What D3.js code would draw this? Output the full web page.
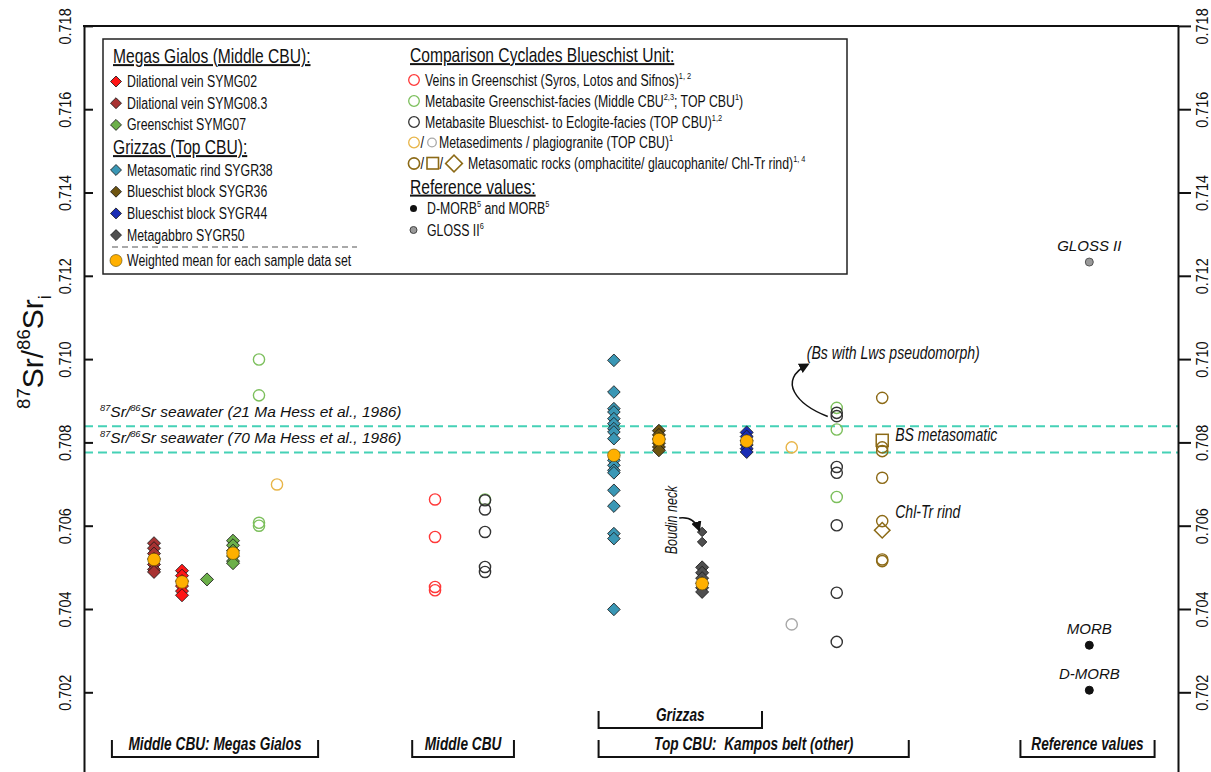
<!DOCTYPE html>
<html>
<head>
<meta charset="utf-8">
<script src="https://cdnjs.cloudflare.com/ajax/libs/d3/7.8.5/d3.min.js"></script>
<style>
  body { margin: 0; background: #fff; }
  svg text { font-family: "Liberation Sans", Arial, sans-serif; fill: #111; white-space: pre; }
</style>
</head>
<body>
<div id="chart"></div>
<script>
(function() {

  var width = 1211, height = 772;

  // y axis ticks (87Sr/86Sr initial)
  var yTicks = [0.702, 0.704, 0.706, 0.708, 0.710, 0.712, 0.714, 0.716, 0.718];

  // seawater reference lines, Hess et al. 1986
  var seawaterValues = [0.70839, 0.70776];
  var seawaterAges = ["21 Ma", "70 Ma"];

  // this study: one array per sample (x slot, values)
  var symg083Slot = 1.555, symg083 = [0.70558, 0.70546, 0.70533, 0.70520, 0.70507, 0.70495, 0.70489];
  var symg02Slot = 2.177, symg02 = [0.70492, 0.70480, 0.70467, 0.70455, 0.70443, 0.70433];
  var symg07aSlot = 2.732, symg07a = [0.70471];
  var symg07bSlot = 3.31, symg07b = [0.70564, 0.70553, 0.70540, 0.70527, 0.70515, 0.70510];
  var sygr38Slot = 11.77, sygr38 = [0.70997, 0.70921, 0.70881, 0.70873, 0.70857, 0.70845, 0.70833, 0.70825,
                                    0.70809, 0.70757, 0.70745, 0.70733, 0.70727, 0.70685, 0.70647, 0.70581,
                                    0.70569, 0.70399];
  var sygr36Slot = 12.77, sygr36 = [0.70828, 0.70818, 0.70808, 0.70798, 0.70789, 0.70781];
  var sygr50Slot = 13.73, sygr50 = [0.70500, 0.70487, 0.70474, 0.70462, 0.70451, 0.70441];
  var sygr50Neck = [0.70585, 0.70561];
  var sygr44Slot = 14.72, sygr44 = [0.70824, 0.70814, 0.70804, 0.70794, 0.70785, 0.70777];

  // weighted means of each sample data set
  var meanSlots = [1.555, 2.177, 3.31, 11.77, 12.77, 13.73, 14.72];
  var meanValues = [0.70519, 0.70465, 0.70534, 0.70769, 0.70807, 0.70461, 0.70803];

  // comparison CBU data: [slot, value]
  var veinsGreenschist = [[7.797, 0.70663], [7.797, 0.70573], [7.797, 0.70453], [7.797, 0.70445]];
  var metabasiteGreenschist = [[3.887, 0.70999], [3.887, 0.70913], [3.887, 0.70607], [3.887, 0.70600],
                               [8.907, 0.70663], [16.72, 0.70883], [16.72, 0.70831], [16.72, 0.70669]];
  var metabasiteBlueschist = [[8.907, 0.70661], [8.907, 0.70639], [8.907, 0.70585], [8.907, 0.70501],
                              [8.907, 0.70489], [16.72, 0.70871], [16.72, 0.70863], [16.72, 0.70741],
                              [16.72, 0.70727], [16.72, 0.70601], [16.72, 0.70439], [16.72, 0.70321]];
  var metasediments = [[4.287, 0.70699], [15.72, 0.70788]];
  var plagiogranite = [[15.72, 0.70363]];
  var omphacitite = [[17.73, 0.70907], [17.73, 0.70788], [17.73, 0.70779], [17.73, 0.70715],
                     [17.73, 0.70611], [17.73, 0.70519], [17.73, 0.70515]];
  var glaucophanite = [[17.73, 0.70805]];
  var chlTrRind = [[17.73, 0.70589]];

  // reference values
  var refNames = ["GLOSS II", "MORB", "D-MORB"];
  var refValues = [0.71233, 0.70313, 0.70205];
  var refSlot = 22.33;

  // bottom group brackets
  var groupLabels = ["Middle CBU: Megas Gialos", "Middle CBU", "Grizzas", "Top CBU:  Kampos belt (other)", "Reference values"];
  var groupStart = [0.62, 7.29, 11.43, 11.43, 20.8];
  var groupEnd = [5.2, 9.55, 15.06, 18.32, 23.78];
  var groupRow = [1, 1, 0, 1, 1];

  var col = {
    red: "#ff1616", darkred: "#a83232", green: "#6cb04a", teal: "#3a97b5",
    brown: "#6e5410", blue: "#1a2db5", grey: "#4f4f4f", mean: "#ffb000",
    oRed: "#ff3838", oGreen: "#7cbf5c", oBlack: "#333", oYellow: "#e8b548",
    oGrey: "#a8a8a8", oBrown: "#8c6a16", sea: "#45d1b6"
  };

  var x = d3.scaleLinear().domain([0, 24.3]).range([84, 1178]);
  var y = d3.scaleLinear().domain([0.700, 0.718]).range([775.6, 25.9]);

  var svg = d3.select("#chart").append("svg")
    .attr("width", width)
    .attr("height", height);

  // rich text with sup / sub parts
  function rich(t, parts, size, k) {
    var cur = 0;
    parts.forEach(function(p) {
      var ts = t.append("tspan").text(p[0]);
      var target = p[1] === "sup" ? -size * 0.42 : p[1] === "sub" ? size * 0.28 : 0;
      if (target - cur !== 0) ts.attr("dy", target - cur);
      cur = target;
      if (p[1] !== "n") ts.style("font-size", (size * (k || 0.6)) + "px");
    });
    return t;
  }

  // text squeezed like a condensed face (no narrow font installed)
  function ctext(parent, tx, ty, k, rot) {
    return parent.append("text")
      .attr("transform", "translate(" + tx + "," + ty + ")" + (rot ? " rotate(" + rot + ")" : "") + " scale(" + k + ",1)");
  }

  function diamond(s) {
    return d3.symbol().type(d3.symbolSquare).size(s)();
  }

  //seawater lines
  svg.selectAll("line.sea")
    .data(seawaterValues)
    .enter().append("line")
    .attr("class", "sea")
    .attr("x1", x(0)).attr("x2", x(24.3))
    .attr("y1", function(d) { return y(d); })
    .attr("y2", function(d) { return y(d); })
    .attr("stroke", col.sea)
    .attr("stroke-width", 2)
    .attr("stroke-dasharray", "9,5");

  seawaterValues.forEach(function(v, i) {
    var t = svg.append("text")
      .attr("x", 100).attr("y", y(v) - 9)
      .style("font-style", "italic")
      .style("font-size", "15.5px");
    rich(t, [["87", "sup"], ["Sr/", "n"], ["86", "sup"], ["Sr seawater (" + seawaterAges[i] + " Hess et al., 1986)", "n"]], 15.5);
  });

  //axes
  var gL = svg.append("g")
    .attr("transform", "translate(" + x(0) + ",0)")
    .call(d3.axisLeft(y).tickValues(yTicks).tickSizeInner(-9).tickSizeOuter(0).tickFormat(d3.format(".3f")));
  var gR = svg.append("g")
    .attr("transform", "translate(" + x(24.3) + ",0)")
    .call(d3.axisRight(y).tickValues(yTicks).tickSizeInner(13).tickSizeOuter(0).tickFormat(d3.format(".3f")));
  [[gL, -19], [gR, 24]].forEach(function(a) {
    a[0].attr("font-family", null).attr("font-size", null);
    a[0].select(".domain").attr("stroke", "#111").attr("stroke-width", 2);
    a[0].selectAll(".tick line").attr("stroke", "#111").attr("stroke-width", 2);
    a[0].selectAll(".tick text")
      .attr("transform", "rotate(-90) scale(0.85,1)")
      .attr("x", 0).attr("y", a[1]).attr("dy", "0.35em")
      .style("text-anchor", "middle")
      .style("font-size", "17px")
      .attr("fill", "#111");
  });
  svg.append("line")
    .attr("x1", x(0) - 1).attr("x2", x(24.3) + 1)
    .attr("y1", y(0.718)).attr("y2", y(0.718))
    .attr("stroke", "#111").attr("stroke-width", 2);

  // y title
  var yt = svg.append("text")
    .attr("transform", "translate(43,352) rotate(-90)")
    .attr("text-anchor", "middle")
    .style("font-size", "30px");
  rich(yt, [["87", "sup"], ["Sr/", "n"], ["86", "sup"], ["Sr", "n"], ["i", "sub"]], 30, 0.62);

  //open circle groups
  var circleGroups = [
    [veinsGreenschist, col.oRed], [metabasiteGreenschist, col.oGreen],
    [metabasiteBlueschist, col.oBlack], [metasediments, col.oYellow],
    [plagiogranite, col.oGrey], [omphacitite, col.oBrown]
  ];
  circleGroups.forEach(function(g) {
    svg.append("g").selectAll("circle")
      .data(g[0])
      .enter().append("circle")
      .attr("cx", function(d) { return x(d[0]); })
      .attr("cy", function(d) { return y(d[1]); })
      .attr("r", 5.6)
      .attr("fill", "none")
      .attr("stroke", g[1])
      .attr("stroke-width", 1.4);
  });
  svg.selectAll("rect.glau")
    .data(glaucophanite)
    .enter().append("rect")
    .attr("class", "glau")
    .attr("x", function(d) { return x(d[0]) - 6; })
    .attr("y", function(d) { return y(d[1]) - 6; })
    .attr("width", 12).attr("height", 12)
    .attr("fill", "none").attr("stroke", col.oBrown).attr("stroke-width", 1.5);
  svg.selectAll("path.chl")
    .data(chlTrRind)
    .enter().append("path")
    .attr("class", "chl")
    .attr("d", diamond(120))
    .attr("transform", function(d) { return "translate(" + x(d[0]) + "," + y(d[1]) + ") rotate(45)"; })
    .attr("fill", "none").attr("stroke", col.oBrown).attr("stroke-width", 1.5);

  //this study diamonds
  var diamondCols = [
    [symg083Slot, symg083, col.darkred, 85], [symg02Slot, symg02, col.red, 85],
    [symg07aSlot, symg07a, col.green, 85], [symg07bSlot, symg07b, col.green, 85],
    [sygr38Slot, sygr38, col.teal, 80], [sygr36Slot, sygr36, col.brown, 85],
    [sygr50Slot, sygr50, col.grey, 85], [sygr50Slot, sygr50Neck, col.grey, 45],
    [sygr44Slot, sygr44, col.blue, 85]
  ];
  diamondCols.forEach(function(c) {
    svg.append("g").selectAll("path")
      .data(c[1])
      .enter().append("path")
      .attr("d", diamond(c[3]))
      .attr("transform", function(d) { return "translate(" + x(c[0]) + "," + y(d) + ") rotate(45)"; })
      .attr("fill", c[2])
      .attr("stroke", "#1a1a1a")
      .attr("stroke-width", 0.8);
  });

  svg.append("g").selectAll("circle")
    .data(meanValues)
    .enter().append("circle")
    .attr("cx", function(d, i) { return x(meanSlots[i]); })
    .attr("cy", function(d) { return y(d); })
    .attr("r", 6.3)
    .attr("fill", col.mean)
    .attr("stroke", "#5a4500")
    .attr("stroke-width", 0.6);

  //reference values
  svg.append("g").selectAll("circle")
    .data(refValues)
    .enter().append("circle")
    .attr("cx", x(refSlot))
    .attr("cy", function(d) { return y(d); })
    .attr("r", 4)
    .attr("fill", function(d, i) { return i === 0 ? "#999" : "#111"; })
    .attr("stroke", function(d, i) { return i === 0 ? "#555" : "#111"; })
    .attr("stroke-width", 1);
  svg.append("g").selectAll("text")
    .data(refNames)
    .enter().append("text")
    .attr("x", x(refSlot))
    .attr("y", function(d, i) { return y(refValues[i]) - 11; })
    .attr("text-anchor", "middle")
    .style("font-style", "italic")
    .style("font-size", "15px")
    .text(function(d) { return d; });

  // annotations
  var defs = svg.append("defs");
  defs.append("marker")
    .attr("id", "head")
    .attr("viewBox", "0 0 10 10")
    .attr("refX", 8).attr("refY", 5)
    .attr("markerWidth", 7).attr("markerHeight", 7)
    .attr("orient", "auto")
    .append("path").attr("d", "M0,0 L10,5 L0,10 Z").attr("fill", "#111");

  var bx = x(16.72), by = y(0.70867);
  svg.append("path")
    .attr("d", "M" + (bx - 9) + "," + (by + 2) + " C" + (bx - 40) + "," + (by - 10) + " " + (bx - 60) + "," + (by - 34) + " " + (bx - 29) + "," + (by - 50))
    .attr("fill", "none").attr("stroke", "#111").attr("stroke-width", 1.5)
    .attr("marker-end", "url(#head)");
  ctext(svg, bx - 30, by - 55, 0.78)
    .style("font-style", "italic").style("font-size", "18px")
    .text("(Bs with Lws pseudomorph)");

  ctext(svg, x(17.73) + 13, y(glaucophanite[0][1]) + 1, 0.78)
    .style("font-style", "italic").style("font-size", "18px")
    .text("BS metasomatic");
  ctext(svg, x(17.73) + 13, y(omphacitite[4][1]) - 3, 0.78)
    .style("font-style", "italic").style("font-size", "18px")
    .text("Chl-Tr rind");

  var nx = x(sygr50Slot), ny = y(sygr50Neck[0]);
  ctext(svg, nx - 25, ny - 12, 0.78, -90)
    .attr("text-anchor", "middle")
    .style("font-style", "italic").style("font-size", "16px")
    .text("Boudin neck");
  svg.append("path")
    .attr("d", "M" + (nx - 23) + "," + (ny - 14) + " Q" + (nx - 8) + "," + (ny - 16) + " " + (nx - 3) + "," + (ny - 2))
    .attr("fill", "none").attr("stroke", "#111").attr("stroke-width", 1.5)
    .attr("marker-end", "url(#head)");

  // bottom group brackets
  var rowTop = [711, 740], rowBottom = [728, 757];
  groupLabels.forEach(function(label, i) {
    var r = groupRow[i], x0 = x(groupStart[i]), x1 = x(groupEnd[i]);
    svg.append("path")
      .attr("d", "M" + x0 + "," + rowTop[r] + " L" + x0 + "," + rowBottom[r] + " L" + x1 + "," + rowBottom[r] + " L" + x1 + "," + rowTop[r])
      .attr("fill", "none").attr("stroke", "#111").attr("stroke-width", 2);
    ctext(svg, (x0 + x1) / 2, rowBottom[r] - 7, 0.76)
      .attr("text-anchor", "middle")
      .style("font-weight", "bold").style("font-style", "italic").style("font-size", "18px")
      .text(label);
  });

  //legend
  var lg = svg.append("g");
  lg.append("rect")
    .attr("x", 103).attr("y", 39).attr("width", 744).attr("height", 235)
    .attr("fill", "#fff").attr("stroke", "#222").attr("stroke-width", 1.5);

  function header(tx, ty, label) {
    ctext(lg, tx, ty + 7, 0.78)
      .style("font-size", "20px").style("text-decoration", "underline")
      .text(label);
  }
  function item(tx, ty, parts) {
    var t = ctext(lg, tx, ty + 5.5, 0.77).style("font-size", "16px");
    rich(t, parts, 16);
  }

  var sampleLabels = ["Dilational vein SYMG02", "Dilational vein SYMG08.3", "Greenschist SYMG07",
                      "Metasomatic rind SYGR38", "Blueschist block SYGR36", "Blueschist block SYGR44", "Metagabbro SYGR50"];
  var sampleColors = [col.red, col.darkred, col.green, col.teal, col.brown, col.blue, col.grey];

  header(113, 56, "Megas Gialos (Middle CBU):");
  header(113, 147, "Grizzas (Top CBU):");
  sampleLabels.forEach(function(s, i) {
    var ry = i < 3 ? 81.5 + i * 21.7 : 170 + (i - 3) * 21.7;
    lg.append("path").attr("d", diamond(60))
      .attr("transform", "translate(116," + ry + ") rotate(45)")
      .attr("fill", sampleColors[i]).attr("stroke", "#1a1a1a").attr("stroke-width", 0.8);
    item(127, ry, [[s, "n"]]);
  });
  lg.append("line").attr("x1", 112).attr("x2", 357).attr("y1", 247).attr("y2", 247)
    .attr("stroke", "#555").attr("stroke-width", 1.2).attr("stroke-dasharray", "6,4");
  lg.append("circle").attr("cx", 116).attr("cy", 260.5).attr("r", 6)
    .attr("fill", col.mean).attr("stroke", "#5a4500").attr("stroke-width", 0.6);
  item(127, 260.5, [["Weighted mean for each sample data set", "n"]]);

  header(410, 55, "Comparison Cyclades Blueschist Unit:");
  var ccbuColors = [col.oRed, col.oGreen, col.oBlack];
  var ccbuLabels = [
    [["Veins in Greenschist (Syros, Lotos and Sifnos)", "n"], ["1, 2", "sup"]],
    [["Metabasite Greenschist-facies (Middle CBU", "n"], ["2,3", "sup"], ["; TOP CBU", "n"], ["1", "sup"], [")", "n"]],
    [["Metabasite Blueschist- to Eclogite-facies (TOP CBU)", "n"], ["1,2", "sup"]]
  ];
  ccbuLabels.forEach(function(parts, i) {
    var ry = 80 + i * 21;
    lg.append("circle").attr("cx", 414).attr("cy", ry).attr("r", 5.3)
      .attr("fill", "none").attr("stroke", ccbuColors[i]).attr("stroke-width", 1.3);
    item(425, ry, parts);
  });
  // metasediments / plagiogranite
  lg.append("circle").attr("cx", 414).attr("cy", 142.5).attr("r", 5.3)
    .attr("fill", "none").attr("stroke", col.oYellow).attr("stroke-width", 1.3);
  ctext(lg, 420.5, 148, 0.8).style("font-size", "16px").text("/");
  lg.append("circle").attr("cx", 432).attr("cy", 142.5).attr("r", 4.3)
    .attr("fill", "none").attr("stroke", col.oGrey).attr("stroke-width", 1.3);
  item(439, 142.5, [["Metasediments / plagiogranite (TOP CBU)", "n"], ["1", "sup"]]);
  // metasomatic rocks
  lg.append("circle").attr("cx", 414).attr("cy", 163.5).attr("r", 5.6)
    .attr("fill", "none").attr("stroke", col.oBrown).attr("stroke-width", 1.6);
  ctext(lg, 420.5, 169, 0.8).style("font-size", "16px").text("/");
  lg.append("rect").attr("x", 427).attr("y", 157.5).attr("width", 11.5).attr("height", 11.5)
    .attr("fill", "none").attr("stroke", col.oBrown).attr("stroke-width", 1.6);
  ctext(lg, 439.5, 169, 0.8).style("font-size", "16px").text("/");
  lg.append("path").attr("d", diamond(140))
    .attr("transform", "translate(454,163.5) rotate(45)")
    .attr("fill", "none").attr("stroke", col.oBrown).attr("stroke-width", 1.6);
  item(468, 163.5, [["Metasomatic rocks (omphacitite/ glaucophanite/ Chl-Tr rind)", "n"], ["1, 4", "sup"]]);

  header(410, 186.5, "Reference values:");
  lg.append("circle").attr("cx", 413.5).attr("cy", 208.5).attr("r", 3.5).attr("fill", "#111");
  item(427, 208.5, [["D-MORB", "n"], ["5", "sup"], [" and MORB", "n"], ["5", "sup"]]);
  lg.append("circle").attr("cx", 413.5).attr("cy", 230).attr("r", 3.5)
    .attr("fill", "#999").attr("stroke", "#444").attr("stroke-width", 1);
  item(427, 230, [["GLOSS II", "n"], ["6", "sup"]]);

})();
</script>
</body>
</html>
